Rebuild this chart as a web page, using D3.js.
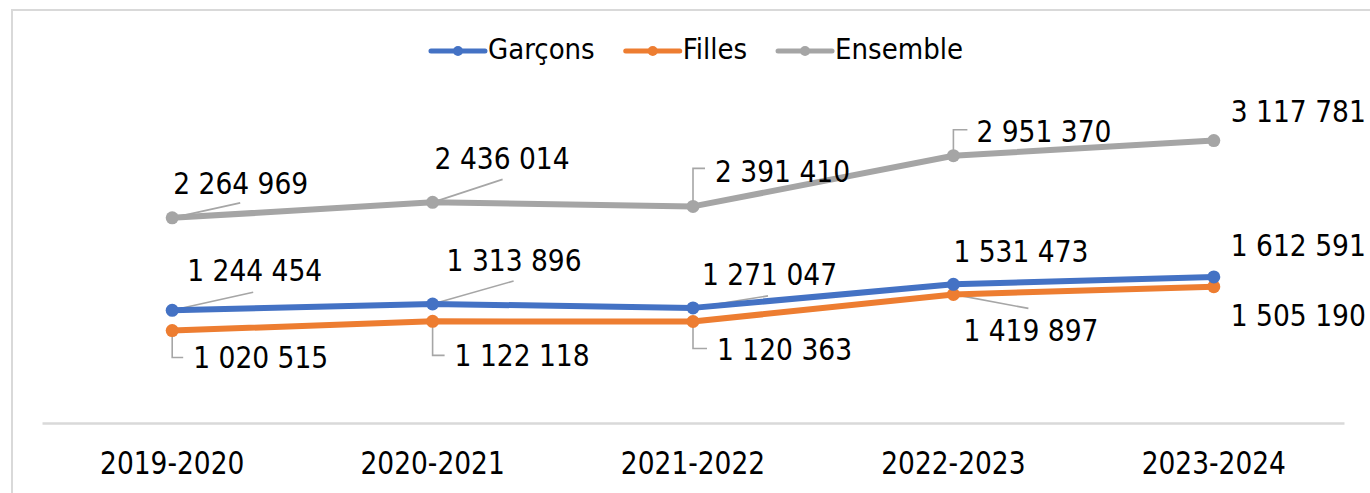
<!DOCTYPE html>
<html lang="fr">
<head>
<meta charset="utf-8">
<script src="https://cdn.jsdelivr.net/npm/d3@7"></script>
<style>
  html, body { margin: 0; padding: 0; background: #ffffff; }
  svg { display: block; }
  text { font-family: "DejaVu Sans Condensed", "DejaVu Sans", sans-serif; fill: #000; }
</style>
</head>
<body>
<svg id="chart" width="1370" height="493"></svg>
<script>
// Effectifs par année scolaire
const years = ["2019-2020", "2020-2021", "2021-2022", "2022-2023", "2023-2024"];
const garcons = [1244454, 1313896, 1271047, 1531473, 1612591];
const filles = [1020515, 1122118, 1120363, 1419897, 1505190];
const ensemble = [2264969, 2436014, 2391410, 2951370, 3117781];
const seriesNames = ["Garçons", "Filles", "Ensemble"];

const colors = { "Garçons": "#4472C4", "Filles": "#ED7D31", "Ensemble": "#A5A5A5" };

// Placement des étiquettes de valeur : décalage du texte (dx, dy) par rapport au point
// et forme du trait de rappel (diag : segment oblique, up/down : équerre).
const labelLayout = {
  "Ensemble": [
    { dx: 1, dy: -24, leader: ["diag", 68, -15] },
    { dx: 2, dy: -33, leader: ["diag", 70, -23] },
    { dx: 22, dy: -24, leader: ["elbow", -38, 12] },
    { dx: 23, dy: -14, leader: ["elbow", -26, 14] },
    { dx: 17, dy: -19, leader: null }
  ],
  "Garçons": [
    { dx: 15, dy: -29, leader: ["diag", 81, -18] },
    { dx: 14, dy: -33, leader: ["diag", 81, -23] },
    { dx: 9, dy: -23, leader: ["diag", 75, -12] },
    { dx: 0, dy: -22, leader: null },
    { dx: 17, dy: -21, leader: null }
  ],
  "Filles": [
    { dx: 21, dy: 37, leader: ["elbow", 27, 11] },
    { dx: 22, dy: 45, leader: ["elbow", 34, 12] },
    { dx: 24, dy: 38, leader: ["elbow", 27, 14] },
    { dx: 10, dy: 47, leader: ["diag", 75, 14] },
    { dx: 17, dy: 39, leader: null }
  ]
};

const svg = d3.select("#chart");
const W = 1370, H = 493;

// Cadre du graphique
svg.append("rect")
  .attr("x", 12).attr("y", 10)
  .attr("width", W).attr("height", H)
  .attr("fill", "#fff")
  .attr("stroke", "#D9D9D9").attr("stroke-width", 2);

const plot = { left: 42, right: 1344, top: 106, bottom: 423 };

const x = d3.scaleBand().domain(years).range([plot.left, plot.right]);
const y = d3.scaleLinear().domain([0, 3500000]).range([plot.bottom, plot.top]);
const cx = d => x(d) + x.bandwidth() / 2;

const fmt = v => d3.format(",")(v).replace(/,/g, " ");

// Axe horizontal
const xAxis = svg.append("g")
  .attr("transform", `translate(0,${plot.bottom})`)
  .call(d3.axisBottom(x).tickSize(0).tickPadding(0));
xAxis.select(".domain").attr("stroke", "#D9D9D9").attr("stroke-width", 2.5);
xAxis.selectAll(".tick text")
  .attr("y", 0).attr("dy", 0)
  .attr("font-size", 32)
  .attr("font-family", "\"DejaVu Sans Condensed\", \"DejaVu Sans\", sans-serif")
  .attr("fill", "#000")
  .attr("transform", "translate(0,51) scale(0.92,1)");

const data = [
  { name: "Garçons", values: garcons },
  { name: "Filles", values: filles },
  { name: "Ensemble", values: ensemble }
];

const line = d3.line()
  .x((d, i) => cx(years[i]))
  .y(d => y(d));

// Traits de rappel (sous les courbes)
const leaders = svg.append("g");
data.forEach(s => {
  s.values.forEach((v, i) => {
    const L = labelLayout[s.name][i].leader;
    if (!L) return;
    const px = cx(years[i]), py = y(v);
    let d;
    if (L[0] === "diag") d = `M${px},${py}L${px + L[1]},${py + L[2]}`;
    else d = `M${px},${py}V${py + L[1]}H${px + L[2]}`;
    leaders.append("path").attr("d", d)
      .attr("fill", "none").attr("stroke", "#A6A6A6").attr("stroke-width", 1.6);
  });
});

// Courbes et marqueurs (Ensemble dessiné en premier, Garçons au-dessus)
const order = ["Ensemble", "Filles", "Garçons"];
order.forEach(name => {
  const s = data.find(e => e.name === name);
  const g = svg.append("g");
  g.append("path").datum(s.values)
    .attr("d", line)
    .attr("fill", "none")
    .attr("stroke", colors[name])
    .attr("stroke-width", 6)
    .attr("stroke-linejoin", "round")
    .attr("stroke-linecap", "round");
  g.selectAll("circle").data(s.values).join("circle")
    .attr("cx", (d, i) => cx(years[i]))
    .attr("cy", d => y(d))
    .attr("r", 6.5)
    .attr("fill", colors[name]);
});

// Étiquettes de valeur
const labels = svg.append("g");
data.forEach(s => {
  s.values.forEach((v, i) => {
    const p = labelLayout[s.name][i];
    labels.append("text")
      .attr("x", cx(years[i]) + p.dx)
      .attr("y", y(v) + p.dy)
      .attr("font-size", 29.5)
      .text(fmt(v));
  });
});

// Légende centrée en haut
const legend = svg.append("g");
const items = seriesNames.map(n => {
  const g = legend.append("g");
  g.append("line").attr("x1", 0).attr("x2", 54).attr("y1", 0).attr("y2", 0)
    .attr("stroke", colors[n]).attr("stroke-width", 5).attr("stroke-linecap", "round");
  g.append("circle").attr("cx", 27).attr("cy", 0).attr("r", 5).attr("fill", colors[n]);
  const t = g.append("text").attr("x", 57).attr("y", 8).attr("font-size", 29).text(n);
  return { g, w: 57 + t.node().getComputedTextLength() };
});
const gap = 31;
const total = d3.sum(items, d => d.w) + gap * (items.length - 1);
let pos = 697 - total / 2;
items.forEach(it => {
  it.g.attr("transform", `translate(${pos},51)`);
  pos += it.w + gap;
});
</script>
</body>
</html>
